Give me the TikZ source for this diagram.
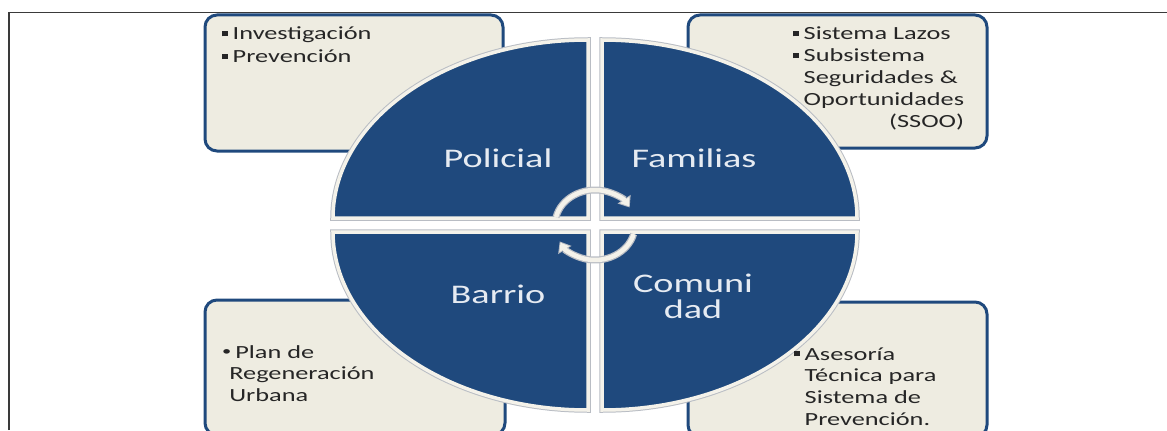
\documentclass[tikz,border=0pt]{standalone}
\usepackage{fontspec}
\setmainfont{Carlito}
\usepackage{graphicx}
\usetikzlibrary{arrows.meta}
\definecolor{bleufonce}{HTML}{1F497D}
\definecolor{creme}{HTML}{EEECE1}
\definecolor{liseret}{HTML}{F4F2EA}
\definecolor{ombre}{HTML}{B9BDC4}
\definecolor{cadrecol}{HTML}{3A3A3A}
\definecolor{titrecol}{HTML}{E6EBF2}
\newcommand\Etire[1]{\scalebox{1.42}[1]{#1}}
\newcommand\Puce{\makebox[0.4em][l]{\rule[0.2em]{0.22em}{0.27em}}}
\begin{document}
\begin{tikzpicture}[x=1bp,y=1bp]
	\tikzstyle{boite}=[draw=bleufonce,fill=creme,line width=3bp,rounded corners=12bp,inner sep=0pt]
	\tikzstyle{quartier}=[fill=bleufonce,draw=liseret,line width=3.5bp,preaction={draw=ombre,line width=5.5bp}]
	\tikzstyle{titre}=[text=titrecol,font=\fontsize{27}{25}\selectfont,inner sep=0pt,anchor=base]
	\tikzstyle{liste}=[text=black!85,font=\fontsize{18.6}{22}\selectfont,inner sep=0pt,anchor=base west]
	\tikzstyle{fleche}=[draw=ombre,line width=7bp,-{Triangle[length=10bp,width=15bp]}]
	\tikzstyle{flecheint}=[draw=liseret,line width=4.5bp,shorten >=1.5bp,-{Triangle[length=7.5bp,width=11bp]}]
	\def\Cx{595}
	\def\Cy{205}
	\def\Ecart{7}
	\def\Rx{255}
	\def\Ry{178}
	\useasboundingbox (0,0) rectangle (1167,430);
	\clip (0,0) rectangle (1167,430);
	% cadre
	\draw[cadrecol,line width=1.5bp] (9,0) -- (9,417.5) -- (1167,417.5);
	% boites
	\node[boite,minimum width=298bp,minimum height=136bp] (BoiteA) at (354,347) {};
	\node[boite,minimum width=299bp,minimum height=133bp] (BoiteB) at (837.5,348.5) {};
	\node[boite,minimum width=300bp,minimum height=135bp] (BoiteC) at (355,62.5) {};
	\node[boite,minimum width=299bp,minimum height=135bp] (BoiteD) at (837.5,60.5) {};
	% quartiers
	\draw[quartier] (\Cx-\Ecart,\Cy+\Ecart) -- ++(-\Rx,0) arc[start angle=180,end angle=90,x radius=\Rx,y radius=\Ry] -- cycle;
	\draw[quartier] (\Cx+\Ecart,\Cy+\Ecart) -- ++(\Rx,0) arc[start angle=0,end angle=90,x radius=\Rx,y radius=\Ry] -- cycle;
	\draw[quartier] (\Cx-\Ecart,\Cy-\Ecart) -- ++(-\Rx,0) arc[start angle=180,end angle=270,x radius=\Rx,y radius=\Ry] -- cycle;
	\draw[quartier] (\Cx+\Ecart,\Cy-\Ecart) -- ++(\Rx,0) arc[start angle=0,end angle=-90,x radius=\Rx,y radius=\Ry] -- cycle;
	% fleches du cycle
	\draw[fleche] (\Cx,\Cy) ++(167:40 and 35) arc[start angle=167,end angle=30,x radius=40,y radius=35];
	\draw[flecheint] (\Cx,\Cy) ++(167:40 and 35) arc[start angle=167,end angle=30,x radius=40,y radius=35];
	\draw[fleche] (\Cx,\Cy) ++(-15:40 and 35) arc[start angle=-15,end angle=-152,x radius=40,y radius=35];
	\draw[flecheint] (\Cx,\Cy) ++(-15:40 and 35) arc[start angle=-15,end angle=-152,x radius=40,y radius=35];
	% titres
	\node[titre] (Policial) at (498,263) {\Etire{Policial}};
	\node[titre] (Familias) at (694,263) {\Etire{Familias}};
	\node[titre] (Barrio) at (498,127) {\Etire{Barrio}};
	\node[titre] (Comunidad) at (693,138) {\Etire{\begin{tabular}[t]{@{}c@{}}Comuni\\dad\end{tabular}}};
	% listes
	\node[liste] (ListeA) at (222,390) {\Etire{\begin{tabular}[t]{@{}l@{}}\Puce Investigación\\[1bp]\Puce Prevención\end{tabular}}};
	\node[liste] (ListeB) at (793,390) {\Etire{\begin{tabular}[t]{@{}l@{}}\Puce Sistema Lazos\\\Puce Subsistema\\\hspace{0.4em}Seguridades \&\\\hspace{0.4em}Oportunidades\\\multicolumn{1}{@{}r@{}}{(SSOO)}\end{tabular}}};
	\node[liste] (ListeC) at (222,72) {\Etire{\begin{tabular}[t]{@{}l@{}}\makebox[0.5em][l]{\raisebox{0.12em}{\scalebox{0.7}{•}}}Plan de\\\hspace{0.27em}Regeneración\\\hspace{0.27em}Urbana\end{tabular}}};
	\node[liste] (ListeD) at (794,70) {\Etire{\begin{tabular}[t]{@{}l@{}}\Puce Asesoría\\\hspace{0.4em}Técnica para\\\hspace{0.4em}Sistema de\\\hspace{0.4em}Prevención.\end{tabular}}};
\end{tikzpicture}
\end{document}
